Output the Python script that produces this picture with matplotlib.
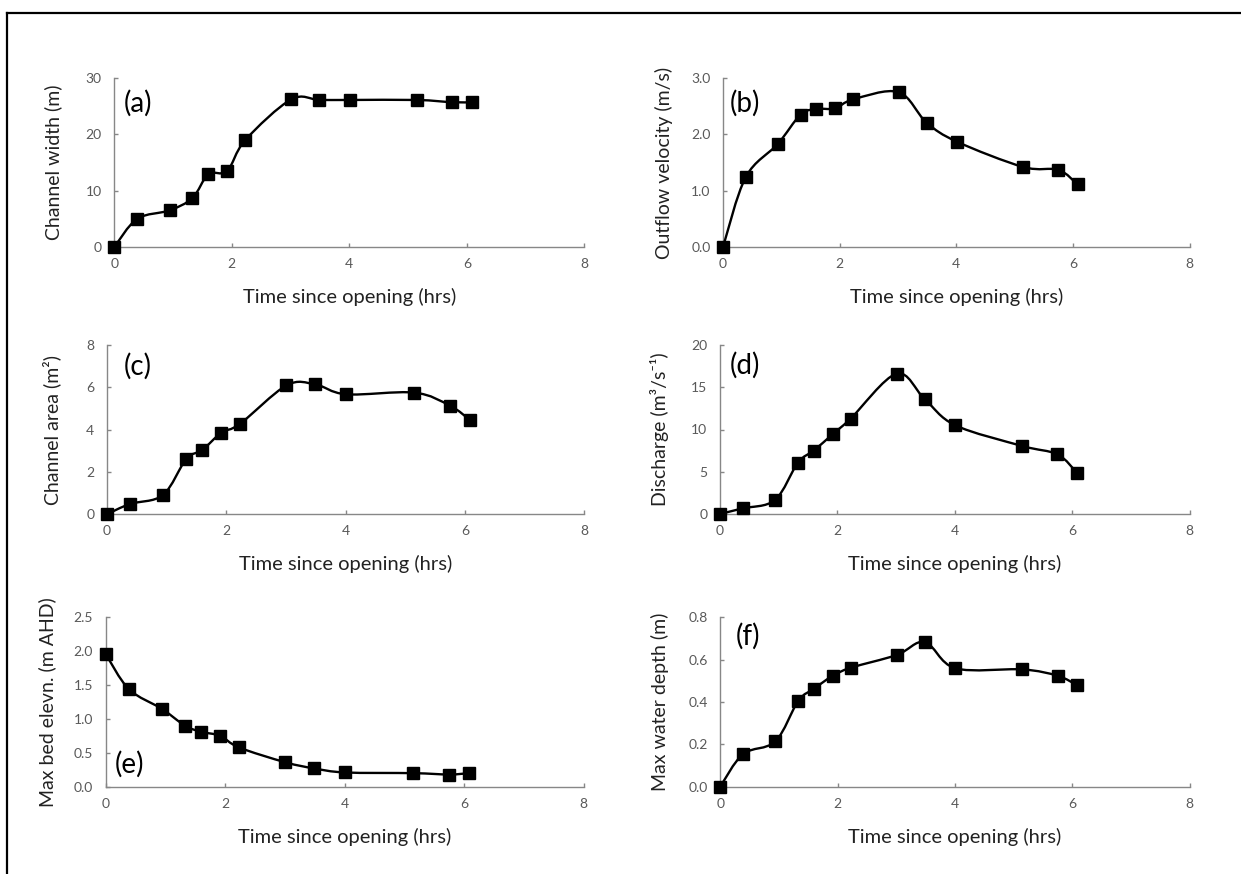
#!/usr/bin/env python3
"""
plot.py  —  Breach channel evolution after opening: six panels (a)-(f).
"""

import matplotlib
matplotlib.use('Agg')
import matplotlib.pyplot as plt
from matplotlib.path import Path
from matplotlib.patches import PathPatch
from matplotlib.lines import Line2D
from matplotlib.ticker import FormatStrFormatter, MultipleLocator

plt.rcParams['font.family'] = ['Lato', 'DejaVu Sans']

# ---- data ----
time_hrs   = [0.0, 0.39, 0.94, 1.33, 1.60, 1.92, 2.23, 3.01, 3.49, 4.01, 5.15, 5.75, 6.08]
width_m    = [0.0, 5.0, 6.5, 8.7, 12.9, 13.5, 19.0, 26.2, 26.1, 26.1, 26.1, 25.7, 25.7]
velocity   = [0.0, 1.24, 1.83, 2.35, 2.45, 2.46, 2.62, 2.75, 2.21, 1.87, 1.42, 1.37, 1.11]
area_m2    = [0.0, 0.49, 0.91, 2.61, 3.04, 3.86, 4.27, 6.09, 6.14, 5.67, 5.75, 5.13, 4.46]
discharge  = [0.0, 0.67, 1.66, 6.07, 7.5, 9.43, 11.3, 16.6, 13.6, 10.5, 8.05, 7.06, 4.9]
bed_elev   = [1.96, 1.44, 1.15, 0.90, 0.81, 0.75, 0.58, 0.36, 0.27, 0.21, 0.20, 0.18, 0.20]
water_dep  = [0.0, 0.154, 0.214, 0.405, 0.463, 0.524, 0.562, 0.622, 0.683, 0.559, 0.554, 0.524, 0.48]

W, H = 1241, 874
GRAY_SPINE = '#878787'
GRAY_TICK  = '#595959'

# (values, ylabel, ymax, ystep, fmt, tag, tag_xy, ylabel offset px,
#  axes box in px: x at 0, x at 8, y at 0, y at top)
panels = [
    (width_m,   'Channel width (m)',       30,  10,  '%d',   '(a)', (0.020, 0.85), 61,
     (114.3, 584.4, 247.0, 78.0)),
    (velocity,  'Outflow velocity (m/s)',  3.0, 1.0, '%.1f', '(b)', (0.015, 0.85), 59,
     (723.0, 1189.5, 247.0, 78.0)),
    (area_m2,   'Channel area (m\u00b2)',  8,   2,   '%d',   '(c)', (0.035, 0.876), 55,
     (106.8, 584.4, 514.3, 345.0)),
    (discharge, 'Discharge (m\u00b3/s\u207b\u00b9)', 20, 5, '%d', '(d)', (0.022, 0.88), 60,
     (719.8, 1189.5, 514.0, 345.0)),
    (bed_elev,  'Max bed elevn. (m AHD)',  2.5, 0.5, '%.1f', '(e)', (0.019, 0.134), 58,
     (105.6, 583.6, 786.7, 617.3)),
    (water_dep, 'Max water depth (m)',     0.8, 0.2, '%.1f', '(f)', (0.033, 0.885), 60,
     (720.2, 1189.5, 786.7, 617.3)),
]


def smooth_path(x, y):
    """Excel-style smoothed line: Catmull-Rom segments as cubic Beziers."""
    n = len(x)
    verts = [(x[0], y[0])]
    codes = [Path.MOVETO]
    for i in range(n - 1):
        xp, yp = (x[i - 1], y[i - 1]) if i > 0 else (x[i], y[i])
        xn, yn = (x[i + 2], y[i + 2]) if i + 2 < n else (x[i + 1], y[i + 1])
        c1 = (x[i] + (x[i + 1] - xp) / 6, y[i] + (y[i + 1] - yp) / 6)
        c2 = (x[i + 1] - (xn - x[i]) / 6, y[i + 1] - (yn - y[i]) / 6)
        verts += [c1, c2, (x[i + 1], y[i + 1])]
        codes += [Path.CURVE4] * 3
    return Path(verts, codes)


fig = plt.figure(figsize=(W / 100, H / 100), dpi=100)

for vals, ylab, ymax, ystep, fmt, tag, tag_xy, yoff, box in panels:
    x0, x8, y0, ytop = box
    wpx, hpx = x8 - x0, y0 - ytop
    ax = fig.add_axes([x0 / W, (H - y0) / H, wpx / W, hpx / H])

    ax.add_patch(PathPatch(smooth_path(time_hrs, vals), facecolor='none',
                           edgecolor='black', lw=1.7, clip_on=False, zorder=3))
    ax.plot(time_hrs, vals, 's', color='black', markersize=8,
            clip_on=False, zorder=4)

    ax.set_xlim(0, 8)
    ax.set_ylim(0, ymax)
    ax.xaxis.set_major_locator(MultipleLocator(2))
    ax.yaxis.set_major_locator(MultipleLocator(ystep))
    ax.yaxis.set_major_formatter(FormatStrFormatter(fmt))

    for side in ('top', 'right'):
        ax.spines[side].set_visible(False)
    for side in ('left', 'bottom'):
        ax.spines[side].set_color(GRAY_SPINE)
        ax.spines[side].set_linewidth(1.0)
    ax.tick_params(direction='in', length=3, width=1.0, color=GRAY_SPINE,
                   labelsize=10, labelcolor=GRAY_TICK)
    ax.tick_params(axis='x', pad=8)
    ax.tick_params(axis='y', pad=9)

    ax.set_xlabel('Time since opening (hrs)', fontsize=14.5, color='#222222')
    ax.xaxis.set_label_coords(0.5, -50 / hpx)
    ax.xaxis.label.set_va('center')
    ax.set_ylabel(ylab, fontsize=14, color='#222222')
    ax.yaxis.set_label_coords(-yoff / wpx, 0.5)
    ax.yaxis.label.set_va('center')

    ax.text(tag_xy[0], tag_xy[1], tag, transform=ax.transAxes,
            ha='left', va='center', fontsize=20, color='black')

# frame line around the figure (only top and left edges visible)
fig.add_artist(Line2D([7 / W, 7 / W], [0, (H - 13) / H],
                      transform=fig.transFigure, color='black', lw=1.6))
fig.add_artist(Line2D([7 / W, 1], [(H - 13) / H, (H - 13) / H],
                      transform=fig.transFigure, color='black', lw=1.6))

plt.savefig('out.png', dpi=100)
plt.close()
